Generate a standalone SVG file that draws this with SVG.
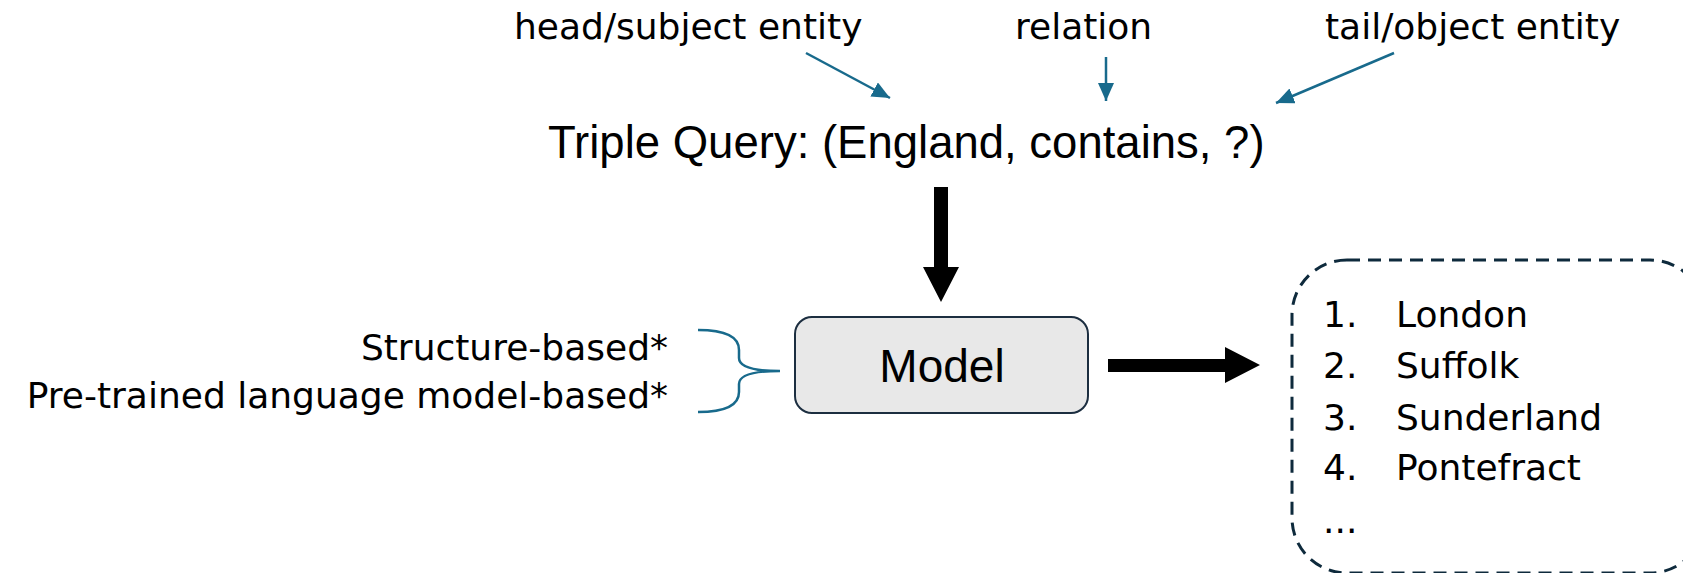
<svg xmlns="http://www.w3.org/2000/svg" width="1683" height="573" viewBox="0 0 1683 573">
  <style>
    .lbl { font-family: "DejaVu Sans", sans-serif; font-size: 36px; fill: #000; }
    .big { font-family: "Liberation Sans", Arial, sans-serif; fill: #000; }
    .blue { stroke: #186a8c; stroke-width: 2.5; fill: none; }
    .thick { fill: #000; }
  </style>
  <defs>
    <marker id="bh" markerUnits="userSpaceOnUse" markerWidth="20" markerHeight="18" refX="18" refY="8" orient="auto">
      <path d="M0,0 L18,8 L0,16 Z" fill="#186a8c"/>
    </marker>
  </defs>

  <g id="label-head">
    <text class="lbl" x="514" y="39">head/subject entity</text>
  </g>
  <g id="label-relation">
    <text class="lbl" x="1015" y="39">relation</text>
  </g>
  <g id="label-tail">
    <text class="lbl" x="1325" y="39">tail/object entity</text>
  </g>

  <g id="triple-query">
    <text class="big" x="548" y="158" font-size="45.5">Triple Query: (England, contains, ?)</text>
  </g>

  <g id="methods">
    <text class="lbl" x="668" y="360" text-anchor="end" font-size="37.6">Structure-based*</text>
    <text class="lbl" x="668" y="408" text-anchor="end" font-size="37.6">Pre-trained language model-based*</text>
  </g>

  <g id="model">
    <rect x="795" y="317" width="293" height="96" rx="17" ry="17" fill="#e8e8e8" stroke="#1c2e40" stroke-width="2"/>
    <text class="big" x="942" y="382" font-size="46" text-anchor="middle">Model</text>
  </g>

  <g id="results">
    <rect x="1292" y="260" width="413" height="313" rx="55" ry="55" fill="none" stroke="#0e2a3c" stroke-width="3" stroke-dasharray="13 8"/>
    <text class="lbl" x="1323" y="327">1.</text>
    <text class="lbl" x="1396" y="327">London</text>
    <text class="lbl" x="1323" y="378">2.</text>
    <text class="lbl" x="1396" y="378">Suffolk</text>
    <text class="lbl" x="1323" y="430">3.</text>
    <text class="lbl" x="1396" y="430">Sunderland</text>
    <text class="lbl" x="1323" y="480">4.</text>
    <text class="lbl" x="1396" y="480">Pontefract</text>
    <text class="lbl" x="1323" y="533">...</text>
  </g>

  <g id="connectors">
    <line class="blue" x1="806" y1="53" x2="890" y2="98" marker-end="url(#bh)"/>
    <line class="blue" x1="1106" y1="57" x2="1106" y2="101" marker-end="url(#bh)"/>
    <line class="blue" x1="1394" y1="53" x2="1276" y2="103" marker-end="url(#bh)"/>
    <path class="blue" d="M698,330 Q739,330 739,350 L739,358 Q739,371 780,371 Q739,371 739,384 L739,392 Q739,412 698,412"/>
    <polygon class="thick" points="934,187 948,187 948,267 959,267 941,302 923,267 934,267"/>
    <polygon class="thick" points="1108,359 1225,359 1225,347 1260,365 1225,383 1225,372 1108,372"/>
  </g>
</svg>
